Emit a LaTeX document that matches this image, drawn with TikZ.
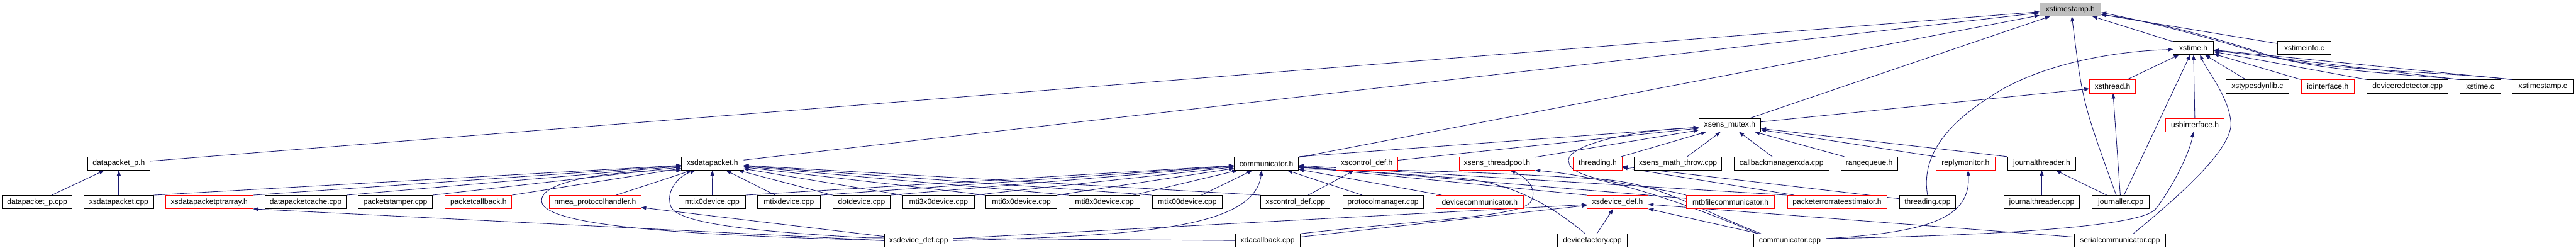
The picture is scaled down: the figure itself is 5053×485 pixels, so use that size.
\documentclass[tikz,border=0pt]{standalone}
\usepackage{fontspec}
\setmainfont{Liberation Sans}
\usetikzlibrary{arrows.meta,calc}
\pgfdeclarelayer{bg}
\pgfsetlayers{bg,main}
\definecolor{edgeblue}{RGB}{25,25,112}
\definecolor{boxgray}{RGB}{191,191,191}
\begin{document}
\begin{tikzpicture}[x=0.75pt,y=-0.75pt,
 box/.style={draw=black, fill=white, line width=0.75pt, minimum height=19.5pt, inner sep=0pt, font=\fontsize{11.2}{13}\selectfont},
 redbox/.style={box, draw=red},
 bw/.style={minimum width=#1*0.75pt},
 dep/.style={draw=edgeblue, line width=0.8pt, -{Triangle[length=7.5pt,width=5.5pt]}}]
\useasboundingbox (0,0) rectangle (5053,485);
% row 0
\node[box,fill=boxgray,bw=120] (tsh) at (4061,18.5) {xstimestamp.h};
% row 1
\node[box,bw=79] (th) at (4302.5,94) {xstime.h};
\node[box,bw=104] (tinfo) at (4520,94) {xstimeinfo.c};
% row 2
\node[redbox,bw=90] (thr) at (4144,169.5) {xsthread.h};
\node[box,bw=124] (tdyn) at (4428,169.5) {xstypesdynlib.c};
\node[redbox,bw=104] (ioif) at (4566,169.5) {iointerface.h};
\node[box,bw=159] (redet) at (4722.5,169.5) {deviceredetector.cpp};
\node[box,bw=80] (tc) at (4865,169.5) {xstime.c};
\node[box,bw=120] (tsc) at (4988,169.5) {xstimestamp.c};
% row 3
\node[box,bw=121] (mutex) at (3393,245) {xsens\_mutex.h};
\node[redbox,bw=115] (usb) at (4305.5,245) {usbinterface.h};
% row 4
\node[box,bw=122] (dph) at (233,320.5) {datapacket\_p.h};
\node[box,bw=121] (xdph) at (1397.5,320.5) {xsdatapacket.h};
\node[box,bw=126] (commh) at (2484,320.5) {communicator.h};
\node[redbox,bw=121] (ctrlh) at (2681,320.5) {xscontrol\_def.h};
\node[redbox,bw=149] (tpool) at (2936.5,320.5) {xsens\_threadpool.h};
\node[redbox,bw=96] (thrdh) at (3134,320.5) {threading.h};
\node[box,bw=171] (mthrow) at (3291.5,320.5) {xsens\_math\_throw.cpp};
\node[box,bw=186] (cbm) at (3494.5,320.5) {callbackmanagerxda.cpp};
\node[box,bw=111] (rq) at (3666.5,320.5) {rangequeue.h};
\node[redbox,bw=117] (reply) at (3855.5,320.5) {replymonitor.h};
\node[box,bw=134] (jth) at (4005,320.5) {journalthreader.h};
% row 5
\node[box,bw=137] (dpcpp) at (73,396) {datapacket\_p.cpp};
\node[box,bw=136] (xdpcpp) at (233,396) {xsdatapacket.cpp};
\node[redbox,bw=171] (ptrarr) at (410.5,396) {xsdatapacketptrarray.h};
\node[box,bw=159] (dpcache) at (599.5,396) {datapacketcache.cpp};
\node[box,bw=145] (pstamp) at (775.5,396) {packetstamper.cpp};
\node[redbox,bw=131] (pcb) at (938.5,396) {packetcallback.h};
\node[redbox,bw=179] (nmea) at (1167.5,396) {nmea\_protocolhandler.h};
\node[box,bw=130] (mtix0) at (1397,396) {mtix0device.cpp};
\node[box,bw=123] (mtix) at (1547.5,396) {mtixdevice.cpp};
\node[box,bw=113] (dot) at (1690,396) {dotdevice.cpp};
\node[box,bw=140] (m3) at (1841,396) {mti3x0device.cpp};
\node[box,bw=139] (m6) at (2003.5,396) {mti6x0device.cpp};
\node[box,bw=139] (m8) at (2166.5,396) {mti8x0device.cpp};
\node[box,bw=138] (m00) at (2329,396) {mtix00device.cpp};
\node[box,bw=136] (ctrlcpp) at (2541,396) {xscontrol\_def.cpp};
\node[box,bw=158] (protmgr) at (2713,396) {protocolmanager.cpp};
\node[redbox,bw=171] (devcomm) at (2902.5,396) {devicecommunicator.h};
\node[redbox,bw=120] (devdef) at (3173,396) {xsdevice\_def.h};
\node[redbox,bw=173] (mtbf) at (3394.5,396) {mtbfilecommunicator.h};
\node[redbox,bw=195] (pere) at (3603.5,396) {packeterrorrateestimator.h};
\node[box,bw=110] (thrdcpp) at (3781,396) {threading.cpp};
\node[box,bw=148] (jtcpp) at (4005,396) {journalthreader.cpp};
\node[box,bw=112] (jcpp) at (4160,396) {journaller.cpp};
% row 6
\node[box,bw=134] (devdefcpp) at (1802,471.5) {xsdevice\_def.cpp};
\node[box,bw=127] (xdacb) at (2486.5,471.5) {xdacallback.cpp};
\node[box,bw=137] (devfac) at (3123.5,471.5) {devicefactory.cpp};
\node[box,bw=142] (commcpp) at (3511,471.5) {communicator.cpp};
\node[box,bw=179] (serial) at (4158.5,471.5) {serialcommunicator.cpp};

\begin{pgfonlayer}{bg}
% to xstimestamp.h
\draw[dep] (dph) -- (tsh);
\draw[dep] (xdph) -- (tsh);
\draw[dep] (commh) -- (tsh);
\draw[dep] (mutex) -- (tsh);
\draw[dep] (th) -- (tsh);
\draw[dep] (tinfo) -- (tsh);
\draw[dep] ($(jcpp.north)+(-9,0)$) .. controls (4085,200) .. ($(tsh.south)+(3,0)$);
\draw[dep] (tc.north west) .. controls (4720,145) and (4560,140) .. (4455,110) .. controls (4380,85) and (4250,45) .. ($(tsh.east)+(0,10)$);
\draw[dep] (tsc.north west) .. controls (4800,140) and (4560,140) .. (4445,108) .. controls (4370,85) and (4250,50) .. ($(tsh.east)+(0,6)$);
% to xstime.h
\draw[dep] (thr) -- (th);
\draw[dep] (jcpp) -- (th);
\draw[dep] (usb) -- (th);
\draw[dep] (tdyn) -- (th);
\draw[dep] (ioif.north west) -- (th);
\draw[dep] (redet.north west) -- (th);
\draw[dep] (tc.north west) -- (th);
\draw[dep] (tsc.north west) -- (th);
\draw[dep] (thrdcpp.north) .. controls (3770,320) and (3800,255) .. (3905,189) .. controls (4000,125) and (4150,100) .. ($(th.west)+(0,3)$);
\draw[dep] ($(serial.north)+(26,0)$) .. controls (4280,380) and (4380,290) .. (4376,240) .. controls (4372,190) and (4330,140) .. ($(th.south)+(13,0)$);
% to xsthread.h
\draw[dep] (mutex) -- (thr);
\draw[dep] (jcpp) -- (thr);
% to usbinterface.h
\draw[dep] ($(commcpp.east)+(0,-4)$) .. controls (3900,462) and (4200,445) .. (4228,410) .. controls (4260,370) and (4295,300) .. ($(usb.south)+(-3,0)$);
% to journalthreader.h
\draw[dep] (jtcpp) -- (jth);
\draw[dep] (jcpp) -- (jth);
% to xsens_mutex.h
\draw[dep] (mthrow) -- (mutex);
\draw[dep] (cbm) -- (mutex);
\draw[dep] (rq) -- (mutex);
\draw[dep] (reply.north west) -- (mutex);
\draw[dep] (jth.north west) -- (mutex);
\draw[dep] (thrdh) -- (mutex);
\draw[dep] (tpool) -- (mutex);
\draw[dep] (ctrlh) -- (mutex);
\draw[dep] (commh.north east) -- (mutex);
\draw[dep] (mtbf.north west) .. controls (3230,362) and (3085,355) .. (3078,320) .. controls (3062,290) and (3180,256) .. ($(mutex.west)+(0,5)$);
% to replymonitor.h
\draw[dep] ($(commcpp.east)+(0,-4)$) .. controls (3790,455) and (3866,425) .. ($(reply.south)+(5,0)$);
% to threading.h
\draw[dep] (thrdcpp) -- (thrdh);
\draw[dep] (pere) -- (thrdh);
% to xsens_threadpool.h
\draw[dep] ($(commcpp.north west)+(8,0)$) .. controls (3300,395) and (3150,345) .. (tpool.south east);
\draw[dep] (xdacb.north east) .. controls (2800,430) and (2985,425) .. (3003,395) .. controls (3018,368) and (2990,345) .. ($(tpool.south)+(26,0)$);
% to communicator.h
\draw[dep] (protmgr) -- (commh);
\draw[dep] (devcomm) -- (commh);
\draw[dep] (devdef.north west) -- (commh);
\draw[dep] (mtbf) -- (commh);
\draw[dep] (pere.north west) -- (commh);
\draw[dep] ($(commcpp.north west)+(15,0)$) .. controls (3330,410) and (3260,362) .. (3150,352) .. controls (2900,335) and (2700,332) .. ($(commh.east)+(0,11)$);
\draw[dep] ($(devfac.north)+(-14,0)$) .. controls (3040,400) and (2960,355) .. (2850,348) .. controls (2700,338) and (2600,330) .. ($(commh.east)+(0,8)$);
\draw[dep] (devdefcpp.east) .. controls (2250,462) and (2460,445) .. ($(commh.south)+(-9,0)$);
\draw[dep] (mtix0.north east) -- (commh);
\draw[dep] (mtix.north east) -- (commh);
\draw[dep] (dot.north east) -- (commh);
\draw[dep] (m3.north east) -- (commh);
\draw[dep] (m6.north east) -- (commh);
\draw[dep] (m8) -- (commh);
\draw[dep] (m00) -- (commh);
% to xscontrol_def.h
\draw[dep] (ctrlcpp) -- (ctrlh);
% to xsdevice_def.h
\draw[dep] (devfac) -- (devdef);
\draw[dep] (commcpp) -- (devdef);
\draw[dep] (serial) -- (devdef);
\draw[dep] (xdacb) -- (devdef);
\draw[dep] ($(devdefcpp.east)+(0,-4)$) -- ($(devdef.west)+(0,5)$);
% to datapacket_p.h
\draw[dep] (dpcpp) -- (dph);
\draw[dep] (xdpcpp) -- (dph);
% to xsdatapacket.h
\draw[dep] (xdpcpp.north east) -- (xdph);
\draw[dep] (ptrarr.north east) -- (xdph);
\draw[dep] (dpcache.north east) -- (xdph);
\draw[dep] (pstamp.north east) -- (xdph);
\draw[dep] (pcb.north east) -- (xdph);
\draw[dep] (nmea) -- (xdph);
\draw[dep] (mtix0) -- (xdph);
\draw[dep] (mtix) -- (xdph);
\draw[dep] (dot.north west) -- (xdph);
\draw[dep] (m3.north west) -- (xdph);
\draw[dep] (m6.north west) -- (xdph);
\draw[dep] (m8.north west) -- (xdph);
\draw[dep] (m00.north west) -- (xdph);
\draw[dep] (ctrlcpp.north west) -- (xdph);
\draw[dep] (devdefcpp.west) .. controls (1400,462) and (1090,448) .. (1064,400) .. controls (1045,355) and (1200,334) .. (xdph.south west);
\draw[dep] (xdacb.west) -- (1700,466) .. controls (1500,455) and (1330,440) .. (1316,405) .. controls (1305,375) and (1330,345) .. ($(xdph.south)+(-33,0)$);
% to nmea / ptrarray
\draw[dep] (devdefcpp) -- (nmea);
\draw[dep] (devdefcpp.west) -- (ptrarr.south east);
\end{pgfonlayer}
\end{tikzpicture}
\end{document}
